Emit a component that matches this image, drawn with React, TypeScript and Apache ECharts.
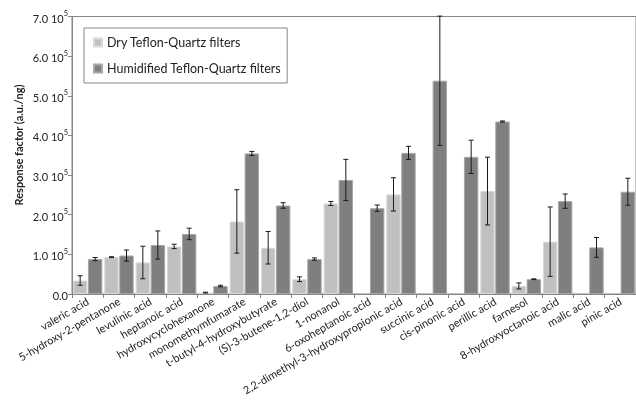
import React, { useEffect, useRef } from "react";
import * as echarts from "echarts";

const categories = [
  "valeric acid",
  "5-hydroxy-2-pentanone",
  "levulinic acid",
  "heptanoic acid",
  "hydroxycyclohexanone",
  "monomethymfumarate",
  "t-butyl-4-hydroxybutyrate",
  "(S)-3-butene-1,2-diol",
  "1-nonanol",
  "6-oxoheptanoic acid",
  "2,2-dimethyl-3-hydroxypropionic acid",
  "succinic acid",
  "cis-pinonic acid",
  "perillic acid",
  "farnesol",
  "8-hydroxyoctanoic acid",
  "malic acid",
  "pinic acid",
];

const dryValues = [34000, 93000, 79500, 120000, 3500, 183000, 116700, 37300, 228400, null, 251300, null, null, 259600, 20300, 132000, null, null];
const dryErrors = [12000, 1000, 41000, 5500, 1000, 80000, 41000, 6000, 5000, null, 42000, null, null, 85500, 7600, 87500, null, null];
const humidValues = [88000, 97000, 123500, 151500, 20000, 354600, 223300, 88000, 287600, 216500, 356000, 538000, 346000, 435000, 37300, 234300, 117500, 258000];
const humidErrors = [4000, 14000, 35500, 14500, 2000, 5000, 7000, 3000, 52000, 8000, 16500, 163000, 42000, 1500, 1000, 18000, 25000, 34000];

const yTicks = [0, 100000, 200000, 300000, 400000, 500000, 600000, 700000];

const FONT = "Lato, 'Open Sans', sans-serif";
const BAR_W = 0.46;
const BAR_GAP = 0.04;

function errorSeries(name: string, values: (number | null)[], errors: (number | null)[], side: number) {
  const data = values
    .map((v, i) => (v == null ? null : [i, v, errors[i] ?? 0]))
    .filter((d) => d != null);
  return {
    type: "custom",
    name: name + " err",
    z: 5,
    silent: true,
    encode: { x: 0, y: 1 },
    data,
    renderItem: (params: any, api: any) => {
      const idx = api.value(0);
      const val = api.value(1);
      const err = api.value(2);
      const cw = api.size([1, 0])[0];
      const bw = cw * BAR_W;
      const off = side * (bw + bw * BAR_GAP) / 2;
      const top = api.coord([idx, val + err]);
      const bot = api.coord([idx, Math.max(0, val - err)]);
      const x = top[0] + off;
      const cap = 2.5;
      const style = { stroke: "#1a1a1a", lineWidth: 1 };
      return {
        type: "group",
        children: [
          { type: "line", shape: { x1: x, y1: top[1], x2: x, y2: bot[1] }, style },
          { type: "line", shape: { x1: x - cap, y1: top[1], x2: x + cap, y2: top[1] }, style },
          { type: "line", shape: { x1: x - cap, y1: bot[1], x2: x + cap, y2: bot[1] }, style },
        ],
      };
    },
  };
}

export default function App() {
  const ref = useRef<HTMLDivElement>(null);
  useEffect(() => {
    if (!ref.current) return;
    const chart = echarts.init(ref.current, undefined, { renderer: "svg" });
    const axisColor = "#868686";
    chart.setOption({
      animation: false,
      textStyle: { fontFamily: FONT },
      grid: {
        left: 72,
        top: 16.5,
        right: -1,
        bottom: 109,
        show: true,
        borderColor: axisColor,
        borderWidth: 1,
      },
      legend: {
        orient: "vertical",
        left: 84,
        top: 28,
        padding: [8, 6, 8, 9],
        itemGap: 13,
        itemWidth: 8,
        itemHeight: 8,
        icon: "rect",
        borderColor: axisColor,
        borderWidth: 1,
        textStyle: { fontFamily: FONT, fontSize: 12.5, color: "#222" },
        data: ["Dry Teflon-Quartz filters", "Humidified Teflon-Quartz filters"],
      },
      xAxis: {
        type: "category",
        data: categories,
        axisLine: { lineStyle: { color: axisColor } },
        axisTick: { show: true, length: 4, lineStyle: { color: axisColor } },
        axisLabel: {
          interval: 0,
          rotate: 30,
          fontFamily: FONT,
          fontSize: 11,
          color: "#222",
          margin: 6,
        },
      },
      yAxis: {
        type: "value",
        min: 0,
        max: 700000,
        interval: 100000,
        splitLine: { show: false },
        axisLine: { show: true, lineStyle: { color: axisColor } },
        axisTick: { show: true, length: 4, lineStyle: { color: axisColor } },
        axisLabel: {
          margin: 4,
          color: "#222",
          fontFamily: FONT,
          customValues: yTicks,
          formatter: (v: number) =>
            v === 0 ? "{a|0.0}" : `{a|${(v / 100000).toFixed(1)} 10}{s|5}`,
          rich: {
            a: { fontSize: 11, fontFamily: FONT, color: "#222", lineHeight: 14, verticalAlign: "bottom" },
            s: { fontSize: 7.5, fontFamily: FONT, color: "#222", verticalAlign: "top", lineHeight: 14, padding: [0, 0, 4, 0] },
          },
        },
      },
      graphic: [
        {
          type: "text",
          x: 18,
          y: 145,
          rotation: Math.PI / 2,
          style: {
            text: "Response factor (a.u./ng)",
            font: `bold 11px ${FONT}`,
            fill: "#222",
            align: "center",
            verticalAlign: "middle",
          },
        },
      ],
      series: [
        {
          type: "bar",
          name: "Dry Teflon-Quartz filters",
          data: dryValues.map((v) => (v == null ? "-" : v)),
          barWidth: BAR_W * 100 + "%",
          barGap: BAR_GAP * 100 + "%",
          itemStyle: { color: "#c0c0c0", borderColor: "#dadada", borderWidth: 1 },
        },
        {
          type: "bar",
          name: "Humidified Teflon-Quartz filters",
          data: humidValues,
          barWidth: BAR_W * 100 + "%",
          barGap: BAR_GAP * 100 + "%",
          itemStyle: { color: "#7f7f7f", borderColor: "#a8a8a8", borderWidth: 1 },
        },
        errorSeries("dry", dryValues, dryErrors, -1),
        errorSeries("humid", humidValues, humidErrors, 1),
      ],
    });
    return () => chart.dispose();
  }, []);
  return (
    <div
      ref={ref}
      style={{ position: "fixed", left: 0, top: 0, width: 636, height: 403 }}
    />
  );
}
